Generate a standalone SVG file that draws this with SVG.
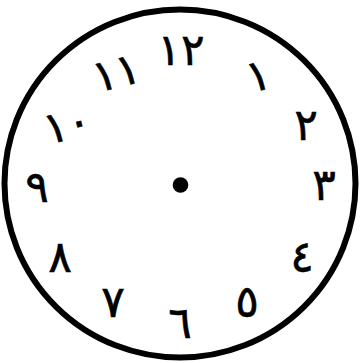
<svg xmlns="http://www.w3.org/2000/svg" width="363" height="363" viewBox="0 0 363 363">
<style>
.n{font-family:"DejaVu Sans",sans-serif;font-size:44px;fill:#000;stroke:#000;stroke-width:0.6;text-anchor:middle;dominant-baseline:central}
</style>
<rect width="363" height="363" fill="#fff"/>
<g id="face">
<ellipse cx="180" cy="183.5" rx="175.5" ry="174" fill="#fff" stroke="#000" stroke-width="6"/>
<circle cx="180.5" cy="185" r="7.8" fill="#000"/>
</g>
<g id="n12"><text class="n" x="181" y="49" letter-spacing="2">١٢</text></g>
<g id="n11"><text class="n" x="116" y="72" letter-spacing="6" transform="rotate(-14 116 72)">١١</text></g>
<g id="n1"><text class="n" x="258" y="75" transform="rotate(-14 258 75)">١</text></g>
<g id="n10"><text class="n" x="67" y="124" letter-spacing="4" transform="rotate(-14 67 124)">١٠</text></g>
<g id="n2"><text class="n" x="306" y="124">٢</text></g>
<g id="n9"><text class="n" x="37" y="186">٩</text></g>
<g id="n3"><text class="n" x="324" y="184">٣</text></g>
<g id="n8"><text class="n" x="60" y="256">٨</text></g>
<g id="n4"><text class="n" x="302" y="256">٤</text></g>
<g id="n7"><text class="n" x="113" y="301">٧</text></g>
<g id="n6"><text class="n" x="180" y="322">٦</text></g>
<g id="n5"><text class="n" x="247" y="301">٥</text></g>
</svg>
